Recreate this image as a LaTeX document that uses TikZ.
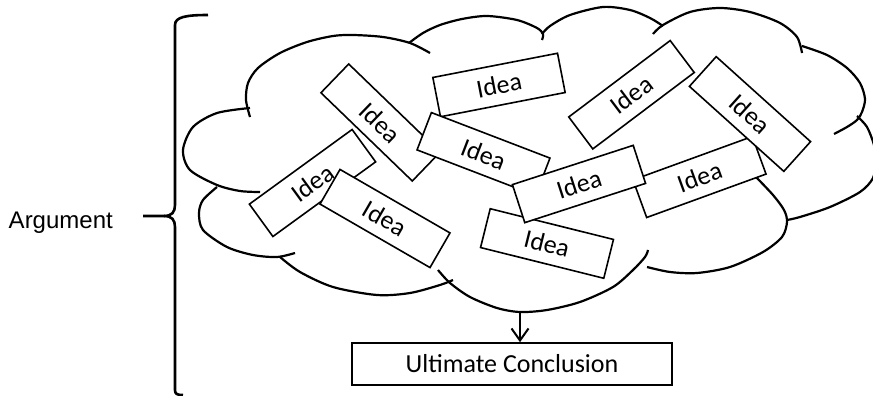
\documentclass[tikz,border=0pt]{standalone}
\usepackage{fontspec}
\setmainfont{Carlito}
\newfontfamily\argfont{Liberation Sans}
\usetikzlibrary{arrows.meta}

\tikzset{
  idea/.style={draw, fill=white, line width=1.6pt, minimum width=127pt, minimum height=40pt, inner sep=0pt, font=\fontsize{26}{30}\selectfont},
  conclusion/.style={draw, fill=white, line width=1.6pt, minimum width=320pt, minimum height=42pt, inner sep=0pt, font=\fontsize{26}{30}\selectfont},
  argtext/.style={inner sep=0pt, font=\argfont\fontsize{24}{28}\selectfont},
  cloudline/.style={line width=2.2pt},
  braceline/.style={line width=2.6pt},
}

\begin{document}
\begin{tikzpicture}[x=1pt, y=-1pt, >={Straight Barb[length=12pt, width=17pt]}]
    \useasboundingbox (0,0) rectangle (873,396);
    % cloud, one lobe at a time
    \draw[cloudline] plot[smooth] coordinates {(250,117) (246,100) (248,83) (258,68) (280,53) (307,42) (333,36) (353,35) (383,37) (410,43) (430,53)};
    \draw[cloudline] plot[smooth] coordinates {(409,43) (423,33) (440,25) (462,19) (487,16) (517,20) (537,28) (543,34) (542,40)};
    \draw[cloudline] plot[smooth] coordinates {(542,34) (550,26) (570,15) (603,7) (630,10) (650,18) (663,26)};
    \draw[cloudline] plot[smooth] coordinates {(653,34) (663,25) (690,12) (720,8) (750,12) (780,23) (797,37) (802,53)};
    \draw[cloudline] plot[smooth] coordinates {(802,46) (827,55) (847,68) (860,83) (865,99) (862,112) (857,120) (847,127) (834,134)};
    \draw[cloudline] plot[smooth] coordinates {(857,116) (867,127) (874,145) (876,160) (873,178) (860,192) (830,207) (800,217) (787,220)};
    \draw[cloudline] plot[smooth] coordinates {(755,176) (773,195) (784,210) (787,222) (782,237) (763,252) (730,267) (697,273) (670,272) (647,267)};
    \draw[cloudline] plot[smooth] coordinates {(438,270) (450,283) (470,297) (497,308) (520,312) (547,310) (580,302) (613,287) (633,270) (645,257) (648,250)};
    \draw[cloudline] plot[smooth] coordinates {(280,257) (300,272) (333,287) (377,295) (410,293) (440,285) (453,280)};
    \draw[cloudline] plot[smooth] coordinates {(217,187) (203,200) (199,213) (203,230) (227,247) (253,255) (277,257) (295,253)};
    \draw[cloudline] plot[smooth] coordinates {(260,192) (240,191) (217,185) (190,170) (183,150) (193,127) (217,113) (250,108)};
    \coordinate (cloudbot) at (520,312);

    % ideas, back to front
    \node[idea, rotate=36] (idea8) at (312.5,183) {Idea};
    \node[idea, rotate=-30] (idea9) at (385,218.5) {Idea};
    \node[idea, rotate=11] (idea2) at (499,85) {Idea};
    \node[idea, rotate=-44] (idea1) at (380.5,122.5) {Idea};
    \node[idea, rotate=-21] (idea5) at (483.5,154) {Idea};
    \node[idea, rotate=-14] (idea10) at (547,243.5) {Idea};
    \node[idea, rotate=20] (idea7) at (699.5,177) {Idea};
    \node[idea, rotate=18] (idea6) at (579,184) {Idea};
    \node[idea, rotate=-42] (idea4) at (750,114) {Idea};
    \node[idea, rotate=37] (idea3) at (631.5,94.75) {Idea};

    \node[conclusion] (concl) at (512,364) {Ultimate Conclusion};
    \draw[->, line width=2pt] (cloudbot) -- (cloudbot |- concl.north);

    % brace
    \coordinate (bracetip) at (143,216);
    \draw[braceline] (208,15) .. controls (186,15) and (175,17) .. (175,25) -- (175,205) .. controls (175,212) and (172,216) .. (164,216) -- (bracetip);
    \draw[braceline] (164,216) .. controls (172,216) and (175,220) .. (175,227) -- (175,390) .. controls (175,394) and (177,395) .. (183,395);
    \node[argtext, anchor=base east] (arg) at (113,228) {Argument};
\end{tikzpicture}
\end{document}
